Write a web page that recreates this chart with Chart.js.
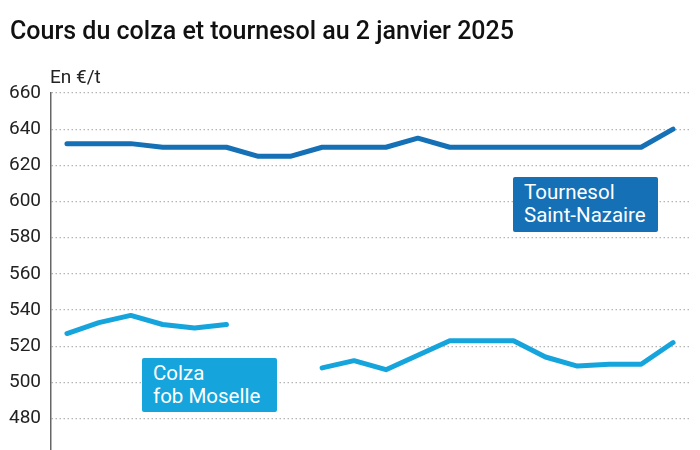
<!DOCTYPE html>
<html>
<head>
<meta charset="utf-8">
<script src="https://cdn.jsdelivr.net/npm/chart.js@4/dist/chart.umd.min.js"></script>
<style>
  html, body { margin: 0; padding: 0; background: #fff; }
  #wrap { position: relative; width: 700px; height: 450px; overflow: hidden; font-family: Roboto, sans-serif; }
  #chart { position: absolute; left: 0; top: 0; }
  .title { position: absolute; left: 10px; top: 16px; font-size: 25px; font-weight: 500; color: #111; white-space: nowrap; }
  .unit { position: absolute; left: 50px; top: 65px; font-size: 19px; color: #222; }
  .tag { position: absolute; color: #fff; font-size: 20.5px; line-height: 23px; padding: 4px 11px; border-radius: 2px; box-sizing: border-box; white-space: nowrap; }
</style>
</head>
<body>
<div id="wrap">
  <canvas id="chart" width="700" height="473"></canvas>
  <div class="title">Cours du colza et tournesol au 2 janvier 2025</div>
  <div class="unit">En €/t</div>
  <div class="tag" style="left:513px; top:177px; width:145px; height:55px; background:#1570b6;">Tournesol<br>Saint-Nazaire</div>
  <div class="tag" style="left:142px; top:358px; width:135px; height:54px; background:#15a5dc;">Colza<br>fob Moselle</div>
</div>
<script>
"use strict";

// trading days leading up to 2 January 2025 (not shown on the chart)
const days = ['03/12', '04/12', '05/12', '06/12', '09/12', '10/12', '11/12', '12/12', '13/12', '16/12',
              '17/12', '18/12', '19/12', '20/12', '23/12', '24/12', '27/12', '30/12', '31/12', '02/01'];

const tournesol = [632, 632, 632, 630, 630, 630, 625, 625, 630, 630,
                   630, 635, 630, 630, 630, 630, 630, 630, 630, 640];

const colza = [527, 533, 537, 532, 530, 532, null, null, 508, 512,
               507, 515, 523, 523, 523, 514, 509, 510, 510, 522];

const yTicks = [480, 500, 520, 540, 560, 580, 600, 620, 640, 660];

const tournesolColor = '#1570b6';
const colzaColor = '#15a5dc';

function lineDataset(label, data, color) {
    return {
        label: label,
        data: data,
        borderColor: color,
        backgroundColor: color,
        borderWidth: 5,
        borderCapStyle: 'round',
        borderJoinStyle: 'round',
        pointRadius: 0,
        tension: 0,
        fill: false,
        spanGaps: false
    };
}

new Chart(document.getElementById('chart'), {
    type: 'line',
    data: {
        labels: days,
        datasets: [
            lineDataset('Tournesol Saint-Nazaire', tournesol, tournesolColor),
            lineDataset('Colza fob Moselle', colza, colzaColor)
        ]
    },
    options: {
        responsive: false,
        animation: false,
        layout: { padding: { top: 93, right: 11, bottom: 0, left: 0 } },
        plugins: {
            legend: { display: false },
            title: { display: false },
            tooltip: { enabled: false }
        },
        scales: {
            x: {
                display: false,
                offset: true
            },
            y: {
                min: 461.7,
                max: 660,
                afterBuildTicks: (axis) => {
                    axis.ticks = yTicks.map(v => ({ value: v }));
                },
                afterFit: (axis) => {
                    axis.width = 51;
                },
                ticks: {
                    padding: 10,
                    color: '#222',
                    font: { family: 'Roboto', size: 19 }
                },
                grid: {
                    drawTicks: false,
                    color: '#b5b5b5',
                    lineWidth: 1.2
                },
                border: {
                    display: true,
                    color: '#666',
                    width: 1.5,
                    dash: [1.5, 2.5]
                }
            }
        }
    }
});
</script>
</body>
</html>
